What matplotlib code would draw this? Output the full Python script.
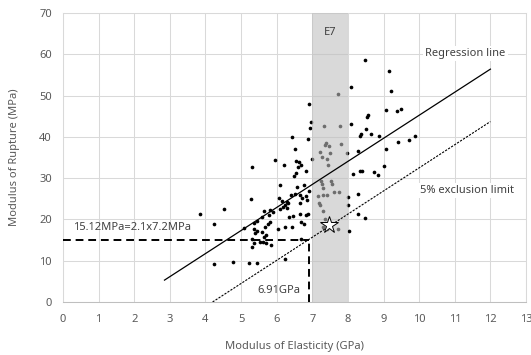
import matplotlib.pyplot as plt

plt.rcParams['font.family'] = ['Noto Sans', 'DejaVu Sans']

# Measured specimens: modulus of elasticity (GPa) and modulus of rupture (MPa)
moe = [6.91, 6.97, 6.94, 8.49, 9.14, 8.08, 9.21, 7.73, 8.56, 8.53,
       9.07, 9.38, 9.50, 8.08, 7.33, 7.78, 8.52, 8.35, 8.38, 8.65,
       8.87, 6.42, 6.87, 6.52, 7.36, 7.39, 7.48, 7.80, 8.28, 9.08,
       9.41, 9.72, 9.87, 7.22, 7.26, 7.40, 7.50, 7.43, 7.97, 6.99,
       5.95, 5.32, 6.21, 6.55, 6.63, 6.68, 6.60, 6.83, 6.54, 6.48,
       9.01, 8.14, 8.35, 8.39, 8.72, 8.85,
       6.10, 6.57, 6.77, 6.92, 6.40, 6.52, 6.65, 6.72, 6.83, 6.86,
       6.66, 6.31, 6.24, 6.18, 6.28, 6.08, 5.81, 5.91, 5.79, 6.06,
       6.15, 6.30, 5.63, 5.46, 5.37, 5.35, 5.44, 5.39, 5.67, 5.75,
       5.80, 5.69, 5.63, 5.60, 6.05, 6.24, 6.44, 6.69, 6.78, 6.82,
       6.89, 6.47, 6.35, 5.32, 5.35, 5.52, 5.61, 5.69, 5.84, 6.69,
       5.22, 5.46, 6.22, 4.78, 4.25, 3.84, 4.53, 4.23, 5.07, 5.28,
       5.32, 5.60, 6.66,
       7.25, 7.52, 7.28, 7.55, 7.30, 7.15, 7.30, 7.40, 7.62, 7.74,
       7.18, 7.22, 7.29, 7.35, 7.29, 7.40, 7.72,
       8.01, 7.99, 8.28, 8.27, 8.48, 8.04]
mor = [47.9, 43.6, 42.2, 58.5, 55.9, 52.1, 51.2, 50.3, 45.2, 44.8,
       46.6, 46.2, 46.7, 43.1, 42.7, 42.7, 41.9, 40.3, 40.6, 40.6,
       40.1, 40.0, 39.5, 37.1, 38.1, 38.5, 37.9, 38.3, 36.5, 37.1,
       38.7, 39.2, 40.1, 36.4, 35.2, 34.7, 36.0, 33.3, 36.1, 34.7,
       34.3, 32.8, 33.2, 34.1, 33.9, 33.3, 32.6, 31.8, 31.2, 30.6,
       33.0, 31.0, 31.8, 31.8, 31.5, 30.7,
       28.4, 27.8, 28.4, 26.8, 26.0, 26.2, 25.8, 25.3, 25.6, 24.7,
       24.0, 23.9, 23.6, 22.9, 22.7, 22.5, 22.4, 21.7, 21.1, 25.1,
       24.5, 24.3, 22.0, 19.7, 19.1, 17.8, 17.3, 16.8, 18.1, 18.8,
       19.3, 16.2, 15.8, 17.0, 17.7, 18.1, 18.2, 19.3, 19.0, 21.1,
       21.3, 20.8, 20.7, 15.2, 14.2, 14.6, 14.5, 14.4, 13.8, 15.2,
       9.5, 9.4, 10.3, 9.7, 9.2, 21.2, 22.5, 18.8, 18.0, 24.9,
       13.3, 20.6, 21.4,
       29.4, 29.4, 28.6, 28.5, 27.5, 25.7, 25.9, 26.0, 26.6, 26.6,
       23.9, 23.4, 22.1, 20.0, 18.1, 17.7, 17.6,
       25.5, 23.5, 26.1, 21.2, 20.3, 17.2]

# Lines
reg_x = [2.85, 12.0]
reg_y = [5.3, 56.4]
limit_x = [4.2, 12.0]
limit_y = [0.0, 43.7]
e7_range = [7.0, 8.0]
char_moe = 6.91
char_mor = 15.12
star_pt = (7.48, 18.6)

fig = plt.figure(figsize=(5.31, 3.55), dpi=100)
ax = fig.add_axes([0.1186, 0.1493, 0.872, 0.8141])

ax.scatter(moe, mor, s=7, color='black', linewidths=0, zorder=2)
ax.axvspan(e7_range[0], e7_range[1], color='#bebebe', alpha=0.58,
           linewidth=0, zorder=3)

ax.plot(reg_x, reg_y, color='black', linewidth=0.9, zorder=4)
ax.plot(limit_x, limit_y, color='black', linewidth=0.8,
        linestyle=(0, (2, 1.2)), zorder=4)
ax.plot([0, char_moe], [char_mor, char_mor], color='black', linewidth=1.4,
        linestyle=(0, (4, 2.5)), zorder=4)
ax.plot([char_moe, char_moe], [0, char_mor], color='black', linewidth=1.4,
        linestyle=(0, (4, 2.5)), zorder=4)
ax.plot(*star_pt, marker='*', markersize=13, markerfacecolor='white',
        markeredgecolor='black', markeredgewidth=0.7, zorder=5)

fs = 8
txt_color = '#404040'
ax.text(7.5, 65.3, 'E7', ha='center', va='center', fontsize=fs,
        color=txt_color, zorder=6)
ax.text(11.3, 60.2, 'Regression line', ha='center', va='center', fontsize=fs,
        color=txt_color, zorder=6,
        bbox=dict(facecolor='white', edgecolor='none', pad=1.5))
ax.text(11.33, 27.1, '5% exclusion limit', ha='center', va='center',
        fontsize=fs, color=txt_color, zorder=6,
        bbox=dict(facecolor='white', edgecolor='none', pad=1.5))
ax.text(0.27, 18.1, '15.12MPa=2.1x7.2MPa', ha='left', va='center',
        fontsize=fs, color=txt_color, zorder=6)
ax.text(6.05, 2.7, '6.91GPa', ha='center', va='center', fontsize=fs,
        color=txt_color, zorder=6)

ax.set_xlim(0, 13)
ax.set_ylim(0, 70)
ax.set_xticks(range(0, 14))
ax.set_yticks(range(0, 71, 10))
ax.grid(True, color='#d9d9d9', linewidth=0.75, zorder=0)
ax.set_axisbelow(True)
ax.tick_params(axis='x', length=0, labelsize=fs, labelcolor='#595959', pad=9)
ax.tick_params(axis='y', length=0, labelsize=fs, labelcolor='#595959', pad=8)
for side in ['left', 'right', 'top']:
    ax.spines[side].set_color('#d9d9d9')
    ax.spines[side].set_linewidth(0.75)
ax.spines['bottom'].set_color('#bfbfbf')
ax.spines['bottom'].set_linewidth(0.75)

ax.set_xlabel('Modulus of Elasticity (GPa)', fontsize=fs, color='#595959',
              labelpad=11)
ax.set_ylabel('Modulus of Rupture (MPa)', fontsize=fs, color='#595959',
              labelpad=14)

fig.savefig('out.png', dpi=100)
